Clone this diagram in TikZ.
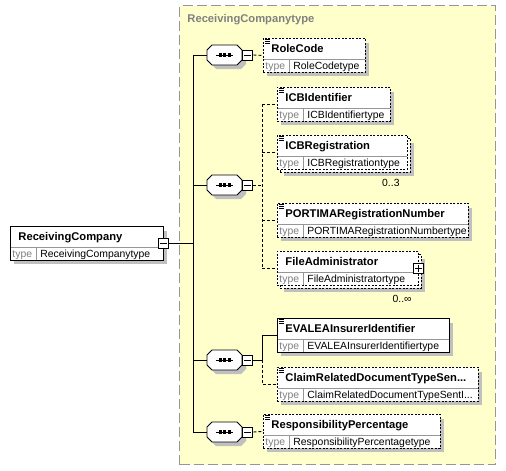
\documentclass[tikz,border=0pt]{standalone}
\usepackage{fontspec}
\setmainfont{Liberation Sans}
\usetikzlibrary{calc}
\definecolor{bgyellow}{RGB}{255,255,204}
\definecolor{framegray}{RGB}{150,150,150}
\definecolor{shadowgray}{RGB}{192,192,192}
\definecolor{typegray}{RGB}{128,128,128}
\definecolor{divgray}{RGB}{150,150,150}
\tikzset{
  elbox/.style={draw=black, fill=white, rectangle, inner sep=0pt, line width=0.9pt, anchor=north west},
  optbox/.style={elbox, dash pattern=on 2pt off 1.5pt},
  reqbox/.style={elbox},
  namefont/.style={font=\fontsize{11.2}{13}\selectfont\bfseries, inner sep=0pt, anchor=west},
  typefont/.style={font=\fontsize{10.4}{13}\selectfont, inner sep=0pt, anchor=west},
  pmbox/.style={draw=black, fill=white, rectangle, inner sep=0pt, minimum size=10pt, line width=0.9pt},
  conndash/.style={dash pattern=on 3pt off 2pt},
  seqnode/.style={inner sep=0pt, minimum width=35pt, minimum height=20pt}
}
\newcommand{\xshadow}[3]{\fill[shadowgray] (#1+4,#2+5) rectangle (#1+#3+4,#2+38);}
\newcommand{\xbody}[7]{%
  \node[#5, minimum width=#4pt, minimum height=34pt] (#1) at (#2,#3) {};
  \draw[divgray, line width=0.7pt] (#2+0.5,#3+21.5) -- (#2+#4-0.5,#3+21.5);
  \draw[divgray, line width=0.7pt] (#2+26.5,#3+21.5) -- (#2+26.5,#3+33.5);
  \node[namefont, anchor=base west] (#1-name) at (#2+8,#3+14.5) {#6};
  \node[typefont, text=typegray, anchor=base west] (#1-kw) at (#2+2,#3+31) {type};
  \node[typefont, anchor=base west] (#1-type) at (#2+30,#3+31) {#7};
}
\newcommand{\xicon}[1]{\foreach \d in {1.5,3.5,5.5}{\draw[line width=0.7pt] ($(#1.north west)+(1.5,\d)$) -- ++(5,0);}}
\newcommand{\xseq}[2]{%
  \fill[shadowgray, shift={(228.5,#2+4)}] (-12.5,-10) -- (12.5,-10) -- (17.5,-5) -- (17.5,5) -- (12.5,10) -- (-12.5,10) -- (-17.5,5) -- (-17.5,-5) -- cycle;
  \filldraw[fill=white, line width=0.9pt, shift={(224.5,#2)}] (-12.5,-10) -- (12.5,-10) -- (17.5,-5) -- (17.5,5) -- (12.5,10) -- (-12.5,10) -- (-17.5,5) -- (-17.5,-5) -- cycle;
  \node[seqnode] (#1) at (224.5,#2) {};
  \draw[line width=1pt] (216,#2) -- (233,#2);
  \foreach \dx in {218.5,223,227.5}{\fill (\dx,#2-1.6) rectangle ++(3.2,3.2);}
  \node[pmbox, anchor=west] (#1-m) at (#1.east) {};
  \draw[line width=0.9pt] ($(#1-m.west)+(2,0)$) -- ($(#1-m.east)+(-2,0)$);
}
\begin{document}
\begin{tikzpicture}[x=1pt,y=-1pt,line width=0.9pt]
\fill[white] (0,0) rectangle (506,471);
\useasboundingbox (0,0) rectangle (506,471);
% frame of the complex type
\node[draw=framegray, fill=bgyellow, dash pattern=on 10pt off 4pt, line width=1.2pt, minimum width=316pt, minimum height=459pt, anchor=north west, inner sep=0pt] (frame) at (179,5) {};
\node[namefont, text=typegray, anchor=base west] (frametitle) at (187,23) {ReceivingCompanytype};
% root element
\xshadow{10}{226}{153}
\xbody{rc}{10}{226}{153}{reqbox}{ReceivingCompany}{ReceivingCompanytype}
\node[pmbox] (rc-m) at (rc.east) {};
\draw ($(rc-m.west)+(2,0)$) -- ($(rc-m.east)+(-2,0)$);
% sequences
\xseq{seq1}{55}
\xseq{seq2}{185}
\xseq{seq3}{360}
\xseq{seq4}{432}
% children
\xshadow{263}{38}{102}
\xbody{rolecode}{263}{38}{102}{optbox}{RoleCode}{RoleCodetype}
\xicon{rolecode}
\xshadow{277}{87}{113}
\xbody{icbid}{277}{87}{113}{optbox}{ICBIdentifier}{ICBIdentifiertype}
\xicon{icbid}
\xshadow{280}{138}{130}
\node[optbox, minimum width=130pt, minimum height=34pt] (icbreg-b) at (280,138) {};
\xbody{icbreg}{277}{135}{130}{optbox}{ICBRegistration}{ICBRegistrationtype}
\xicon{icbreg}
\node[typefont, anchor=base east] (icbreg-mult) at (400,186) {0..3};
\xshadow{277}{203}{191}
\xbody{portima}{277}{203}{191}{optbox}{PORTIMARegistrationNumber}{PORTIMARegistrationNumbertype}
\xicon{portima}
\xshadow{280}{254}{141}
\node[optbox, minimum width=141pt, minimum height=34pt] (fileadm-b) at (280,254) {};
\xbody{fileadm}{277}{251}{141}{optbox}{FileAdministrator}{FileAdministratortype}
\node[pmbox] (fileadm-p) at (fileadm.east) {};
\draw ($(fileadm-p.west)+(2,0)$) -- ($(fileadm-p.east)+(-2,0)$);
\draw ($(fileadm-p.north)+(0,2)$) -- ($(fileadm-p.south)+(0,-2)$);
\node[typefont, anchor=base east] (fileadm-mult) at (412,302) {0..∞};
\xshadow{277}{318}{172}
\xbody{evalea}{277}{318}{172}{reqbox}{EVALEAInsurerIdentifier}{EVALEAInsurerIdentifiertype}
\xicon{evalea}
\xshadow{277}{367}{201}
\xbody{claim}{277}{367}{201}{optbox}{ClaimRelatedDocumentTypeSen...}{ClaimRelatedDocumentTypeSentI...}
\xicon{claim}
\xshadow{263}{414}{177}
\xbody{resp}{263}{414}{177}{optbox}{ResponsibilityPercentage}{ResponsibilityPercentagetype}
\xicon{resp}
% connectors
\coordinate (trunk) at (193,0);
\coordinate (bus) at (262,0);
\draw (rc-m.east) -- (rc-m.east -| trunk);
\draw (seq1.west -| trunk) -- (seq4.west -| trunk);
\foreach \s in {seq1,seq2,seq3,seq4}{\draw (\s.west -| trunk) -- (\s.west);}
\draw[conndash] (seq1-m.east) -- (rolecode.west);
\draw[conndash] (seq2-m.east) -- (seq2-m.east -| bus);
\draw[conndash] (icbid.west -| bus) -- (fileadm.west -| bus);
\foreach \n in {icbid,icbreg,portima,fileadm}{\draw[conndash] (\n.west -| bus) -- (\n.west);}
\draw (seq3-m.east) -- (seq3-m.east -| bus) -- (evalea.west -| bus) -- (evalea.west);
\draw[conndash] (seq3-m.east -| bus) -- (claim.west -| bus) -- (claim.west);
\draw[conndash] (seq4-m.east) -- (resp.west);
\end{tikzpicture}
\end{document}
